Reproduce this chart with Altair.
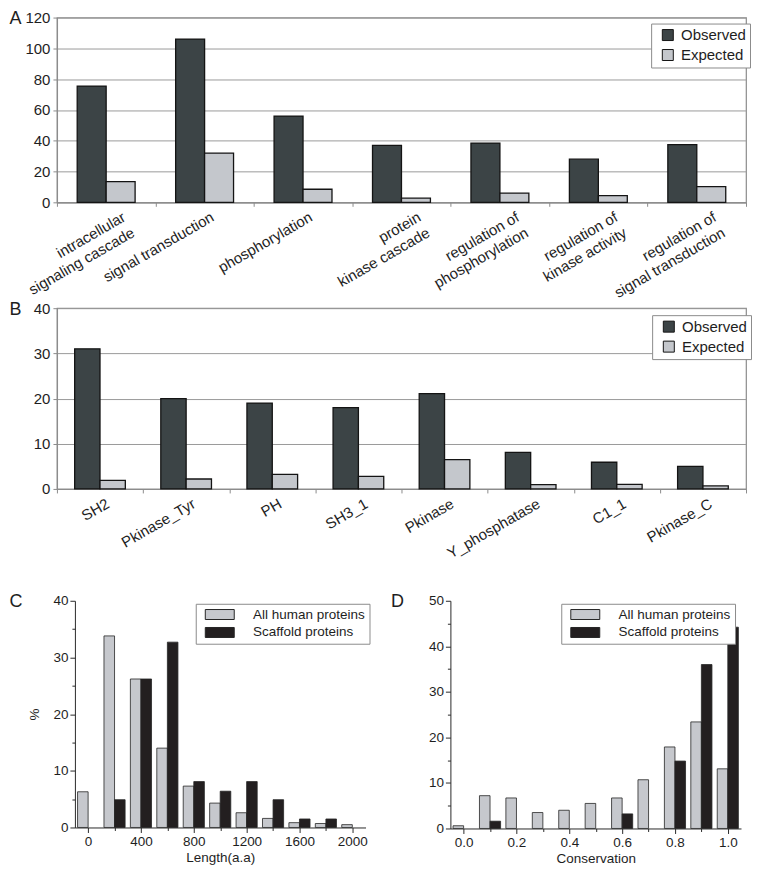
import altair as alt
import pandas as pd

FONT = "Liberation Sans"

# ---------------- Panel A: GO terms ----------------
go_terms = ["intracellular|signaling cascade", "signal transduction", "phosphorylation",
            "protein|kinase cascade", "regulation of|phosphorylation",
            "regulation of|kinase activity", "regulation of|signal transduction"]
go_observed = [75.5, 106, 56, 37, 38.5, 28, 37.5]
go_expected = [13.5, 32, 8.5, 2.7, 6, 4.4, 10.2]

# ---------------- Panel B: Pfam domains ----------------
dom_names = ["SH2", "Pkinase_Tyr", "PH", "SH3_1", "Pkinase", "Y_phosphatase", "C1_1", "Pkinase_C"]
dom_observed = [31, 20, 19, 18, 21.1, 8.1, 5.9, 5]
dom_expected = [1.9, 2.2, 3.2, 2.8, 6.5, 0.95, 1.0, 0.66]

series_ab = ["Observed", "Expected"]
color_ab = ["#3c4446", "#c4c7cc"]

# ---------------- Panel C: length distribution ----------------
length_bins = [0, 200, 400, 600, 800, 1000, 1200, 1400, 1600, 1800, 2000]
length_all = [6.3, 33.8, 26.2, 14.0, 7.3, 4.3, 2.6, 1.6, 0.85, 0.7, 0.5]
length_scaffold = [0, 4.9, 26.2, 32.7, 8.1, 6.4, 8.1, 4.9, 1.5, 1.5, 0]

# ---------------- Panel D: conservation distribution ----------------
cons_bins = [0.0, 0.1, 0.2, 0.3, 0.4, 0.5, 0.6, 0.7, 0.8, 0.9, 1.0]
cons_all = [0.6, 7.2, 6.7, 3.5, 4.0, 5.5, 6.7, 10.7, 17.9, 23.4, 13.1]
cons_scaffold = [0, 1.6, 0, 0, 0, 0, 3.2, 0, 14.8, 36.0, 44.2]

series_cd = ["All human proteins", "Scaffold proteins"]
color_cd = ["#c6c8cd", "#231f20"]

TXT = "#1e1e1e"

# panel letters are drawn as (unrotated) axis titles at the top-left corner
LETTER = dict(titleFontSize=18, titleFontWeight="normal", titleFont=FONT, titleColor=TXT,
              titleAngle=0, titleAlign="left", titleBaseline="middle", titleY=1)


def grouped_panel(cats, obs, exp, ymax, ystep, height, letter, lx, ly):
    n = len(cats)
    df = pd.DataFrame({
        "cat": cats * 2,
        "series": [series_ab[0]] * n + [series_ab[1]] * n,
        "value": obs + exp,
    })
    return alt.Chart(df, view=alt.ViewBackground(stroke="#8c8c8c", strokeWidth=1.2)).mark_bar(
        stroke="#141414", strokeWidth=1.3
    ).encode(
        x=alt.X("cat:N", sort=cats, title=None,
                scale=alt.Scale(paddingInner=0, paddingOuter=0),
                axis=alt.Axis(labelAngle=-30, labelAlign="right", labelBaseline="top",
                              labelExpr="split(datum.label, '|')", labelFontSize=15,
                              labelLineHeight=18, labelPadding=3, labelColor=TXT,
                              labelOffset={"condition": {"test": "indexof(datum.label, '|') >= 0",
                                                         "value": 14}, "value": 4},
                              labelOverlap=False, labelLimit=300,
                              tickBand="extent", tickSize=4, tickColor="#8c8c8c",
                              domainColor="#8c8c8c", domainWidth=1.2)),
        xOffset=alt.XOffset("series:N", sort=series_ab,
                            scale=alt.Scale(paddingOuter=0.7, paddingInner=0)),
        y=alt.Y("value:Q", title=letter, scale=alt.Scale(domain=[0, ymax], nice=False),
                axis=alt.Axis(values=list(range(0, ymax + 1, ystep)), grid=True,
                              gridColor="#9a9a9a", gridWidth=1, labelFontSize=15,
                              labelColor=TXT, labelPadding=3, tickSize=4,
                              tickColor="#8c8c8c", domainColor="#8c8c8c", domainWidth=1.2,
                              titleX=-48, **LETTER)),
        color=alt.Color("series:N", sort=series_ab,
                        scale=alt.Scale(domain=series_ab, range=color_ab),
                        legend=alt.Legend(orient="none", legendX=lx, legendY=ly, title=None,
                                          symbolType="square", symbolSize=121,
                                          symbolStrokeColor="#141414", symbolStrokeWidth=1,
                                          symbolOffset=5.2, labelOffset=5.7,
                                          labelFontSize=15, labelColor=TXT, labelFont=FONT,
                                          padding=4, rowPadding=4,
                                          strokeColor="#8c8c8c", fillColor="white")),
    ).properties(width=690, height=height)


chartA = grouped_panel(go_terms, go_observed, go_expected, 120, 20, 185, "A", 595, 6)
chartB = grouped_panel(dom_names, dom_observed, dom_expected, 40, 10, 181, "B", 596, 7)


def hist_panel(bins, all_vals, scaf_vals, half, xdomain, xrange, width, height,
               xlabel_expr, xminor_test, xtitle, ymax, ytitle, yoffset, letter, ldx, lx, ly,
               xformat):
    n = len(bins)
    df = pd.DataFrame({
        "bin": bins * 2,
        "series": [series_cd[0]] * n + [series_cd[1]] * n,
        "value": all_vals + scaf_vals,
    })
    yaxis = dict(values=list(range(0, ymax + 1, 5)),
                 labelExpr="datum.value % 10 == 0 ? datum.label : ''",
                 tickSize={"condition": {"test": "datum.value % 10 != 0", "value": 3}, "value": 5},
                 grid=False, labelFontSize=13.5, labelColor=TXT, labelPadding=2,
                 tickColor="#2a2a2a", domainColor="#2a2a2a", offset=yoffset)
    if ytitle:
        yaxis.update(titleFontSize=13.5, titleFontWeight="normal", titleColor=TXT,
                     titlePadding=11)
    else:
        yaxis.update(titleX=ldx, **LETTER)
    base = alt.Chart(df, view=alt.ViewBackground(stroke="transparent")).transform_filter(
        "datum.value > 0"
    ).transform_calculate(
        x1=f"datum.series == '{series_cd[0]}' ? datum.bin - {half} : datum.bin",
        x2=f"datum.series == '{series_cd[0]}' ? datum.bin : datum.bin + {half}",
    )
    xscale = alt.Scale(domain=xdomain, range=xrange, nice=False, zero=False)
    yscale = alt.Scale(domain=[0, ymax], nice=False)
    bars = base.mark_bar(stroke="#262626", strokeWidth=0.8).encode(
        x=alt.X("x1:Q", title=xtitle, scale=xscale,
                axis=alt.Axis(values=bins, labelExpr=xlabel_expr, format=xformat,
                              tickSize={"condition": {"test": xminor_test, "value": 3}, "value": 5},
                              labelFontSize=13.5, labelColor=TXT, labelPadding=2,
                              tickColor="#2a2a2a", domainColor="#2a2a2a", grid=False,
                              titleFontSize=13.5, titleFontWeight="normal", titleColor=TXT,
                              titlePadding=3)),
        x2="x2:Q",
        y=alt.Y("value:Q", title=ytitle if ytitle else letter, scale=yscale,
                axis=alt.Axis(**yaxis)),
        y2=alt.datum(0),
        color=alt.Color("series:N", sort=series_cd,
                        scale=alt.Scale(domain=series_cd, range=color_cd),
                        legend=alt.Legend(orient="none", legendX=lx, legendY=ly, title=None,
                                          symbolType="M-2.9,-1H2.9V1H-2.9Z", symbolSize=100,
                                          symbolStrokeColor="#262626", symbolStrokeWidth=1,
                                          symbolOffset=13.3, labelOffset=26.6,
                                          labelFontSize=13.5, labelColor=TXT, labelFont=FONT,
                                          padding=4, rowPadding=3,
                                          strokeColor="#8c8c8c", fillColor="white")),
    )
    if not ytitle:
        return bars.properties(width=width, height=height)
    # panel letter on a second, otherwise invisible, left axis (y only, so the x axis is kept)
    ghost = base.mark_bar(opacity=0).encode(
        y=alt.Y("value:Q", title=letter, scale=yscale,
                axis=alt.Axis(orient="left", labels=False, ticks=False, domain=False,
                              grid=False, titleX=ldx, **LETTER)),
        y2=alt.datum(0),
    )
    return alt.layer(bars, ghost).resolve_axis(y="independent").properties(
        width=width, height=height)


chartC = hist_panel(length_bins, length_all, length_scaffold, 80, [-100, 2100], [18, 309], 309, 227,
                    "datum.value % 400 == 0 ? datum.label : ''", "datum.value % 400 != 0",
                    "Length(a.a)", 40, "%", -18, "C", -48, 139, 3, "d")
chartD = hist_panel(cons_bins, cons_all, cons_scaffold, 0.04, [-0.05, 1.05], [0, 291], 291, 228,
                    "round(datum.value * 10) % 2 == 0 ? format(datum.value, '.1f') : ''",
                    "round(datum.value * 10) % 2 == 1",
                    "Conservation", 50, "", 0, "D", -60, 111, 3, ".1f")

top = alt.vconcat(chartA, chartB, spacing=106, bounds="flush").resolve_scale(
    color="independent", xOffset="independent").resolve_legend(color="independent")
bottom = alt.hconcat(chartC, chartD, spacing=19).resolve_scale(
    color="independent").resolve_legend(color="independent")

chart = alt.vconcat(top, bottom, spacing=30).resolve_scale(
    color="independent", xOffset="independent").resolve_legend(color="independent").properties(
    padding=0, background="white"
).configure(font=FONT)

chart.save("out.html", embed_options={"renderer": "svg", "actions": False})
